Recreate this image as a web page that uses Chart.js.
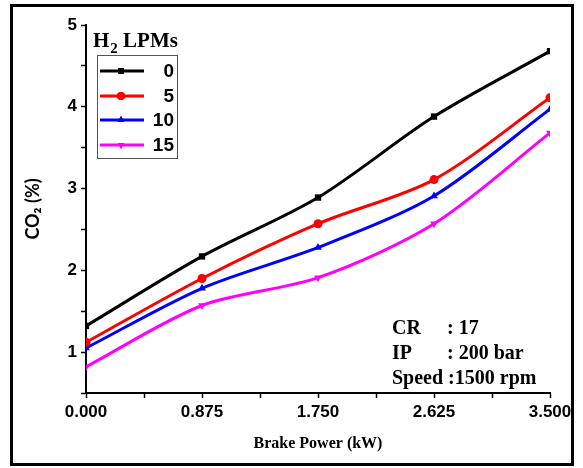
<!DOCTYPE html>
<html lang="en">
  <head>
    <meta charset="utf-8" />
    <title>CO2 vs Brake Power</title>
    <script src="https://cdn.jsdelivr.net/npm/chart.js"></script>
    <style>
      body { margin: 0; background: #fff; }
      #wrap { position: relative; width: 583px; height: 468px; }
      #frame {
        position: absolute; left: 10px; top: 4px; width: 558px; height: 456px;
        border: 3px solid #000; pointer-events: none;
      }
    </style>
  </head>
  <body>
    <div id="wrap">
      <canvas id="myChart" width="583" height="468"></canvas>
      <div id="frame"></div>
    </div>
    <script>
      // brake power (kW) at each test point
      const powerKW = [0, 0.875, 1.75, 2.625, 3.5]

      // CO2 (%) for each H2 flow rate
      const co2_h0 = [1.32, 2.17, 2.89, 3.88, 4.68]
      const co2_h5 = [1.12, 1.9, 2.57, 3.11, 4.11]
      const co2_h10 = [1.05, 1.78, 2.28, 2.91, 3.97]
      const co2_h15 = [0.82, 1.57, 1.91, 2.57, 3.68]

      const seriesNames = ['0', '5', '10', '15']
      const seriesColors = ['#000000', '#ff0000', '#0000ff', '#ff00ff']
      const seriesMarkers = ['rect', 'circle', 'triangle', 'triangle']
      const markerRotation = [0, 0, 0, 180]

      const notes = [
        ['CR', ': 17'],
        ['IP', ': 200 bar'],
        ['Speed :1500 rpm', ''],
      ]

      const allSeries = [co2_h0, co2_h5, co2_h10, co2_h15]

      const datasets = allSeries.map((vals, i) => ({
        label: seriesNames[i],
        data: vals.map((v, j) => ({ x: powerKW[j], y: v })),
        borderColor: seriesColors[i],
        backgroundColor: seriesColors[i],
        borderWidth: 3,
        tension: 0.3,
        pointStyle: seriesMarkers[i],
        rotation: markerRotation[i],
        pointRadius: 4.5,
        pointBorderWidth: 0,
      }))

      const serif = '"Liberation Serif", "Times New Roman", serif'
      const sans = '"Liberation Sans", Arial, sans-serif'

      // legend box + notes drawn by hand
      const extras = {
        id: 'extras',
        afterDraw(chart) {
          const ctx = chart.ctx
          ctx.save()
          ctx.fillStyle = '#000'
          ctx.textBaseline = 'alphabetic'
          ctx.textAlign = 'left'

          // legend title H2 LPMs
          ctx.font = 'bold 21px ' + serif
          ctx.fillText('H', 93, 47)
          let x = 93 + ctx.measureText('H').width
          ctx.font = 'bold 15px ' + serif
          ctx.fillText('2', x + 1, 53)
          x += ctx.measureText('2').width + 1
          ctx.font = 'bold 21px ' + serif
          ctx.fillText(' LPMs', x, 47)

          ctx.strokeStyle = '#555'
          ctx.lineWidth = 1
          ctx.strokeRect(97.5, 55.5, 80, 103)

          const rows = [71, 96, 120, 145]
          rows.forEach((y, i) => {
            ctx.strokeStyle = seriesColors[i]
            ctx.lineWidth = 3
            ctx.beginPath()
            ctx.moveTo(100, y)
            ctx.lineTo(144, y)
            ctx.stroke()
            ctx.fillStyle = seriesColors[i]
            Chart.helpers.drawPoint(
              ctx,
              { pointStyle: seriesMarkers[i], rotation: markerRotation[i], radius: 4, borderWidth: 0 },
              121,
              y
            )
            ctx.fill()
            ctx.fillStyle = '#000'
            ctx.font = 'bold 19px ' + sans
            ctx.textAlign = 'right'
            ctx.textBaseline = 'middle'
            ctx.fillText(seriesNames[i], 174, y + 1)
          })

          // test conditions
          ctx.textAlign = 'left'
          ctx.textBaseline = 'alphabetic'
          ctx.font = 'bold 20px ' + serif
          const base = [334, 359, 384]
          notes.forEach((n, i) => {
            ctx.fillText(n[0], 392, base[i])
            if (n[1]) ctx.fillText(n[1], 447, base[i])
          })
          ctx.restore()
        },
      }

      const config = {
        type: 'line',
        data: { datasets: datasets },
        options: {
          responsive: false,
          animation: false,
          layout: { padding: { left: 10, right: 33, top: 25, bottom: 0 } },
          plugins: { legend: { display: false }, tooltip: { enabled: false } },
          scales: {
            x: {
              type: 'linear',
              min: 0,
              max: 3.5,
              afterFit: (s) => { s.height = 75 },
              grid: { drawOnChartArea: false, tickLength: 5, color: '#000', tickWidth: 1.5 },
              border: { display: true, color: '#000', width: 2 },
              ticks: {
                stepSize: 0.4375,
                autoSkip: false,
                maxRotation: 0,
                padding: 4,
                color: '#000',
                font: { family: sans, size: 17, weight: 'bold' },
                callback: (v) => {
                  const k = v / 0.875
                  return Math.abs(k - Math.round(k)) < 1e-6 ? v.toFixed(3) : ''
                },
              },
              title: {
                display: true,
                text: 'Brake Power (kW)',
                color: '#000',
                font: { family: serif, size: 16, weight: 'bold' },
                padding: { top: 4, bottom: 15 },
              },
            },
            y: {
              min: 0.5,
              max: 5,
              afterFit: (s) => { s.width = 76 },
              grid: { drawOnChartArea: false, tickLength: 5, color: '#000', tickWidth: 1.5 },
              border: { display: true, color: '#000', width: 2 },
              ticks: {
                stepSize: 0.5,
                autoSkip: false,
                padding: 4,
                color: '#000',
                font: { family: sans, size: 17, weight: 'bold' },
                callback: (v) => (Number.isInteger(v) ? v : ''),
              },
              title: {
                display: true,
                text: 'CO₂ (%)',
                color: '#000',
                font: { family: 'Lato, "DejaVu Sans", sans-serif', size: 18, weight: 'bold' },
                padding: { top: 12, bottom: 4 },
              },
            },
          },
        },
        plugins: [extras],
      }

      var myChart = new Chart(document.getElementById('myChart'), config)
    </script>
  </body>
</html>
